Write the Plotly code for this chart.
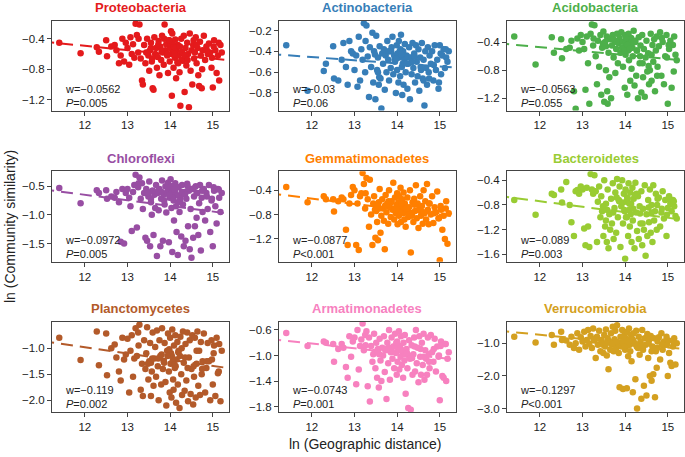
import plotly.graph_objects as go

# shared geographic distances (ln), one per site pair
geo_x = [
    11.40, 11.90, 12.28, 12.33, 12.50, 12.52, 12.62, 12.70, 12.74, 12.80,
    12.84, 12.88, 12.92, 12.96, 13.00, 13.04, 13.07, 13.10, 13.13, 13.16,
    13.19, 13.22, 13.25, 13.28, 13.31, 13.34, 13.36, 13.39, 13.42, 13.44,
    13.46, 13.49, 13.51, 13.53, 13.55, 13.57, 13.59, 13.61, 13.63, 13.65,
    13.67, 13.69, 13.71, 13.73, 13.75, 13.77, 13.79, 13.81, 13.83, 13.85,
    13.87, 13.89, 13.91, 13.93, 13.95, 13.97, 13.99, 14.00, 14.01, 14.03,
    14.04, 14.05, 14.07, 14.08, 14.09, 14.11, 14.12, 14.14, 14.15, 14.17,
    14.18, 14.20, 14.22, 14.24, 14.26, 14.28, 14.30, 14.32, 14.34, 14.36,
    14.38, 14.40, 14.42, 14.44, 14.46, 14.48, 14.50, 14.52, 14.54, 14.56,
    14.58, 14.60, 14.62, 14.64, 14.66, 14.68, 14.70, 14.72, 14.74, 14.76,
    14.79, 14.82, 14.85, 14.88, 14.91, 14.94, 14.97, 15.00, 15.03, 15.06,
    15.09, 15.12, 15.15, 15.18, 15.21, 13.58, 13.86, 14.02, 14.13, 14.27,
    13.48, 13.72, 13.94, 14.06, 14.19, 14.35, 14.55, 14.75, 14.98, 15.14,
    13.26, 13.55, 13.80, 13.98, 14.10, 14.23, 14.41, 14.62, 14.86, 15.02,
]

proteo_y = [
    -0.45, -0.59, -0.51, -0.57, -0.42, -0.63, -0.50, -0.48, -0.55, -0.72,
    -0.62, -0.40, -0.70, -0.45, -0.52, -0.74, -0.38, -0.60, -0.47, -0.65,
    -0.20, -0.35, -0.58, -0.21, -0.66, -0.95, -1.00, -0.48, -0.72, -0.58,
    -0.40, -0.62, -0.82, -0.55, -0.45, -0.70, -1.05, -1.07, -0.38, -0.60,
    -0.52, -0.78, -0.64, -0.43, -0.88, -0.50, -0.68, -0.36, -0.58, -0.74,
    -0.21, -0.55, -0.47, -0.62, -0.85, -0.42, -0.70, -0.52, -0.46, -0.60,
    -1.15, -0.33, -0.58, -0.78, -0.50, -0.65, -0.41, -0.92, -0.55, -0.71,
    -0.48, -0.62, -0.84, -1.28, -0.40, -0.57, -0.69, -0.36, -1.10, -0.52,
    -0.75, -0.45, -0.60, -1.30, -0.33, -0.82, -0.55, -1.00, -0.48, -0.66,
    -0.58, -0.38, -0.72, -0.52, -0.88, -1.02, -0.44, -0.62, -1.05, -0.55,
    -0.36, -0.68, -0.50, -0.60, -0.46, -0.58, -0.78, -1.04, -0.42, -0.55,
    -0.85, -0.62, -0.95, -0.48, -0.58, -0.66, -0.40, -0.30, -0.52, -0.68,
    -0.58, -0.48, -0.60, -0.44, -0.72, -0.62, -0.42, -0.80, -0.65, -0.45,
    -0.40, -0.52, -0.56, -0.42, -0.60, -0.50, -0.68, -0.48, -0.55, -0.50,
]
actino_y = [
    -0.34, -0.78, -0.59, -0.52, -0.35, -0.66, -0.68, -0.48, -0.32, -0.55,
    -0.72, -0.30, -0.40, -0.42, -0.58, -0.44, -0.74, -0.26, -0.68, -0.38,
    -0.48, -0.13, -0.60, -0.15, -0.45, -0.84, -0.36, -0.55, -0.22, -0.70,
    -0.40, -0.86, -0.25, -0.58, -0.46, -0.72, -0.35, -0.66, -0.95, -0.42,
    -0.52, -0.38, -0.77, -0.44, -0.60, -0.30, -0.48, -0.68, -0.40, -0.56,
    -0.36, -0.26, -0.62, -0.44, -0.50, -0.80, -0.34, -0.58, -0.42, -0.70,
    -0.30, -0.46, -0.64, -0.38, -0.24, -0.55, -0.82, -0.40, -0.72, -0.48,
    -0.33, -0.60, -0.44, -0.76, -0.52, -0.36, -0.86, -0.46, -0.62, -0.32,
    -0.56, -0.42, -0.70, -0.34, -0.50, -0.64, -0.38, -0.78, -0.46, -0.58,
    -0.32, -0.66, -0.48, -0.92, -0.40, -0.56, -0.72, -0.36, -0.60, -0.44,
    -0.52, -0.40, -0.68, -0.34, -0.58, -0.48, -0.76, -0.34, -0.62, -0.44,
    -0.38, -0.56, -0.46, -0.50, -0.40, -0.65, -0.40, -0.44, -0.52, -0.46,
    -0.43, -0.42, -0.48, -0.40, -0.45, -0.50, -0.55, -0.66, -0.70, -0.38,
    -0.30, -0.60, -0.40, -0.47, -0.43, -0.52, -0.45, -0.68, -0.53, -0.42,
]
acido_y = [
    -0.32, -0.72, -0.33, -0.55, -0.36, -0.63, -0.50, -0.48, -0.38, -1.10,
    -1.35, -0.35, -0.52, -0.30, -0.40, -0.50, -1.08, -0.32, -0.70, -1.28,
    -0.28, -0.15, -0.45, -0.16, -0.60, -1.00, -0.38, -0.75, -0.30, -1.15,
    -0.48, -0.25, -1.25, -0.40, -0.80, -0.32, -1.28, -0.55, -0.90, -0.36,
    -1.20, -0.45, -0.30, -0.62, -0.38, -0.84, -0.50, -0.28, -0.70, -0.42,
    -0.34, -0.55, -0.26, -0.48, -0.75, -0.40, -1.05, -0.30, -0.58, -0.45,
    -0.36, -1.15, -0.52, -0.28, -0.66, -0.42, -0.95, -0.34, -0.78, -0.48,
    -0.60, -0.24, -1.02, -0.40, -0.88, -0.52, -1.20, -0.33, -0.70, -0.45,
    -1.12, -0.30, -0.90, -0.50, -1.18, -0.62, -0.38, -0.82, -0.56, -1.00,
    -0.80, -0.28, -0.95, -0.44, -0.68, -0.36, -1.10, -0.52, -0.32, -0.75,
    -0.46, -0.26, -0.88, -0.40, -1.00, -0.60, -0.30, -1.28, -0.50, -0.38,
    -1.05, -0.44, -0.32, -0.58, -0.66, -1.10, -0.38, -0.34, -0.46, -0.52,
    -0.42, -0.36, -0.50, -0.44, -0.40, -0.60, -0.74, -0.88, -0.62, -0.82,
    -0.35, -0.46, -0.40, -0.52, -0.50, -0.38, -0.70, -0.58, -0.34, -0.44,
]
chloro_y = [
    -0.53, -0.80, -0.57, -0.62, -0.57, -0.72, -0.68, -0.70, -0.60, -0.78,
    -1.47, -0.55, -1.50, -0.62, -0.55, -0.70, -0.85, -1.28, -0.60, -0.48,
    -0.30, -1.22, -0.52, -0.35, -0.72, -0.45, -0.90, -0.62, -1.40, -0.55,
    -1.45, -0.68, -0.42, -1.55, -0.78, -1.00, -0.58, -1.35, -0.65, -0.88,
    -0.48, -1.72, -0.62, -0.92, -0.55, -1.55, -0.72, -0.40, -1.45, -0.65,
    -0.82, -0.50, -0.96, -0.60, -0.44, -1.48, -0.70, -0.55, -0.38, -0.88,
    -0.62, -1.65, -0.50, -0.75, -1.10, -0.58, -0.45, -0.85, -1.30, -0.66,
    -1.70, -0.52, -0.95, -0.70, -1.38, -0.48, -0.82, -1.55, -0.60, -1.45,
    -0.72, -0.46, -1.20, -0.58, -1.60, -0.90, -1.75, -0.55, -1.40, -0.68,
    -1.20, -0.50, -1.05, -0.62, -1.35, -0.80, -0.48, -1.62, -0.70, -0.95,
    -0.55, -1.10, -0.62, -0.90, -0.48, -1.30, -0.75, -1.55, -0.58, -0.85,
    -1.15, -0.55, -0.70, -0.95, -0.62, -0.58, -0.75, -0.50, -0.66, -0.60,
    -0.62, -0.58, -0.52, -0.70, -0.78, -0.64, -0.54, -0.58, -0.72, -0.56,
    -0.45, -0.72, -0.60, -0.66, -0.56, -0.75, -0.50, -0.62, -0.68, -0.52,
]
gemma_y = [
    -0.35, -0.60, -0.50, -0.55, -0.55, -0.75, -0.58, -0.52, -0.55, -1.05,
    -1.30, -0.62, -0.48, -0.35, -0.40, -1.30, -0.62, -1.38, -0.50, -0.45,
    -0.12, -0.30, -0.70, -0.20, -0.55, -1.00, -0.23, -0.80, -1.30, -0.62,
    -0.50, -1.18, -0.74, -0.92, -1.22, -0.60, -0.38, -1.10, -0.82, -0.55,
    -0.70, -0.90, -1.37, -0.48, -0.76, -0.62, -0.95, -0.40, -0.68, -0.84,
    -0.58, -0.72, -0.28, -0.88, -0.52, -0.78, -0.64, -0.45, -0.96, -0.60,
    -0.82, -0.50, -0.70, -0.36, -0.92, -0.66, -0.55, -0.78, -0.44, -0.88,
    -0.62, -1.00, -0.74, -0.52, -0.84, -0.68, -0.40, -1.42, -0.78, -0.60,
    -0.92, -0.54, -0.74, -0.32, -0.86, -0.62, -1.02, -0.70, -0.50, -0.82,
    -0.66, -0.95, -0.40, -0.78, -0.58, -0.88, -0.30, -0.72, -0.96, -0.62,
    -0.80, -0.50, -0.94, -0.68, -0.76, -0.42, -0.86, -1.55, -0.72, -1.05,
    -0.82, -1.20, -0.58, -1.28, -0.78, -0.70, -0.60, -0.74, -0.66, -0.80,
    -0.72, -0.65, -0.70, -0.76, -0.68, -0.82, -0.74, -0.62, -0.86, -0.70,
    -0.45, -0.66, -0.58, -0.72, -0.62, -0.70, -0.64, -0.76, -0.78, -0.66,
]
bactero_y = [
    -0.72, -0.96, -0.62, -0.64, -0.55, -0.76, -0.43, -0.80, -1.08, -1.30,
    -0.58, -0.56, -0.62, -0.50, -0.55, -1.18, -1.45, -0.52, -1.15, -1.48,
    -0.30, -0.55, -0.62, -0.32, -0.58, -1.40, -0.75, -0.50, -1.00, -0.66,
    -0.90, -1.30, -0.40, -1.15, -0.78, -1.40, -0.55, -1.50, -0.95, -1.20,
    -0.70, -1.10, -0.45, -1.35, -0.85, -0.60, -1.25, -0.38, -1.00, -0.72,
    -0.50, -1.48, -0.82, -0.40, -1.10, -0.62, -0.90, -1.67, -0.55, -0.75,
    -1.00, -0.68, -1.30, -0.45, -0.88, -1.15, -0.60, -0.78, -1.40, -0.52,
    -1.05, -0.70, -1.50, -0.44, -0.92, -1.22, -0.66, -1.35, -0.82, -1.10,
    -0.58, -1.45, -0.86, -1.20, -0.48, -1.62, -0.95, -1.30, -0.72, -1.08,
    -0.55, -1.25, -0.80, -1.40, -0.48, -1.05, -0.90, -0.62, -1.20, -0.70,
    -0.68, -1.15, -0.92, -0.58, -1.02, -0.72, -1.30, -0.85, -0.66, -0.78,
    -0.90, -0.72, -0.82, -0.98, -1.02, -0.88, -0.74, -1.00, -0.95, -0.62,
    -0.82, -0.92, -0.76, -0.70, -0.86, -0.94, -0.84, -0.80, -0.96, -0.74,
    -0.58, -1.05, -0.68, -0.88, -0.78, -0.64, -1.10, -0.92, -0.86, -0.70,
]
plancto_y = [
    -0.80, -1.23, -0.68, -1.33, -0.72, -1.52, -1.00, -0.93, -1.18, -1.45,
    -1.62, -0.80, -1.22, -1.12, -0.82, -1.85, -1.05, -0.75, -1.55, -1.20,
    -0.62, -1.15, -0.70, -0.55, -1.80, -1.30, -1.92, -0.85, -1.40, -1.10,
    -0.60, -1.60, -1.25, -0.90, -1.92, -1.45, -0.70, -1.72, -1.20, -0.98,
    -1.55, -0.66, -1.35, -2.00, -0.85, -1.15, -1.70, -0.62, -1.40, -1.25,
    -0.90, -1.65, -2.10, -1.05, -0.72, -1.45, -1.85, -0.80, -1.30, -1.95,
    -1.15, -0.64, -1.60, -1.80, -0.95, -1.38, -0.75, -2.05, -1.22, -0.88,
    -1.70, -1.05, -2.15, -0.78, -1.50, -1.90, -0.68, -1.28, -1.82, -0.92,
    -1.62, -0.70, -2.02, -1.18, -0.85, -1.88, -1.40, -0.75, -2.08, -1.55,
    -0.80, -1.95, -1.30, -0.68, -1.72, -1.05, -1.90, -0.88, -1.50, -1.25,
    -0.72, -1.85, -1.38, -0.90, -1.25, -2.00, -0.85, -1.70, -0.95, -1.92,
    -0.80, -1.48, -0.92, -2.02, -1.05, -1.20, -1.28, -1.10, -1.35, -1.00,
    -1.30, -1.20, -1.15, -1.25, -1.08, -1.18, -1.35, -1.40, -1.22, -1.45,
    -0.95, -1.28, -1.12, -1.02, -1.32, -1.15, -1.38, -1.05, -1.25, -1.10,
]
armati_y = [
    -0.65, -0.85, -0.78, -0.80, -0.82, -1.10, -0.90, -0.82, -0.88, -1.18,
    -1.35, -0.70, -1.02, -0.78, -0.72, -1.45, -0.60, -1.22, -0.85, -0.75,
    -0.50, -0.92, -0.68, -0.62, -1.48, -0.72, -1.72, -0.85, -1.10, -0.98,
    -0.66, -1.20, -0.80, -1.35, -0.90, -1.50, -0.74, -1.08, -1.40, -0.88,
    -1.00, -0.70, -1.26, -0.92, -1.68, -0.80, -1.12, -0.60, -1.38, -0.95,
    -0.72, -1.05, -0.86, -1.20, -0.66, -0.96, -1.30, -0.78, -1.10, -0.90,
    -0.62, -1.22, -0.85, -1.02, -0.70, -1.15, -0.92, -1.35, -0.80, -1.08,
    -0.68, -1.60, -0.90, -1.20, -1.82, -0.76, -1.05, -1.85, -0.84, -1.30,
    -0.98, -0.72, -1.25, -0.60, -1.12, -0.88, -1.42, -0.70, -1.02, -1.30,
    -0.80, -1.15, -0.66, -1.38, -0.92, -1.05, -1.30, -0.72, -0.98, -1.20,
    -0.68, -0.95, -1.10, -0.74, -1.25, -0.86, -1.02, -1.70, -0.78, -1.32,
    -1.35, -0.82, -1.40, -1.05, -0.95, -0.98, -0.92, -0.88, -0.96, -1.00,
    -0.94, -0.90, -0.86, -0.92, -0.98, -1.04, -0.90, -1.10, -1.00, -0.82,
    -0.84, -0.95, -0.88, -0.80, -0.92, -0.96, -0.86, -1.02, -0.90, -0.85,
]
verruco_y = [
    -0.80, -0.98, -0.75, -1.05, -0.65, -0.90, -0.92, -1.05, -0.80, -1.15,
    -1.00, -0.70, -1.20, -0.82, -0.95, -0.65, -1.10, -0.90, -0.60, -1.02,
    -0.78, -1.15, -0.55, -0.92, -1.45, -0.80, -1.05, -0.62, -1.25, -0.90,
    -1.00, -1.30, -0.75, -1.10, -0.58, -1.38, -0.85, -1.80, -0.95, -1.20,
    -0.70, -1.05, -0.50, -1.25, -0.88, -0.62, -1.15, -0.45, -0.98, -1.30,
    -2.35, -0.80, -1.10, -0.60, -2.40, -0.95, -0.72, -1.20, -0.85, -1.00,
    -2.38, -0.65, -1.40, -0.90, -0.55, -1.05, -1.25, -0.75, -1.55, -0.88,
    -2.50, -0.70, -1.00, -2.10, -0.62, -3.00, -1.15, -0.80, -1.35, -0.95,
    -2.70, -0.60, -1.20, -2.30, -0.85, -1.05, -2.60, -0.72, -1.45, -0.90,
    -2.00, -0.78, -2.15, -1.10, -1.95, -0.85, -2.65, -1.25, -1.75, -0.95,
    -0.82, -1.50, -0.70, -1.20, -0.95, -1.05, -0.80, -2.00, -1.30, -1.60,
    -1.70, -1.10, -0.85, -1.65, -1.00, -0.95, -1.05, -1.00, -0.90, -1.10,
    -1.05, -1.00, -0.98, -1.08, -0.92, -1.12, -1.00, -1.15, -1.05, -0.98,
    -0.88, -1.02, -0.96, -1.10, -0.94, -1.02, -1.08, -1.25, -1.05, -0.92,
]

phyla = ["Proteobacteria", "Actinobacteria", "Acidobacteria",
         "Chloroflexi", "Gemmatimonadetes", "Bacteroidetes",
         "Planctomycetes", "Armatimonadetes", "Verrucomicrobia"]
series_y = [proteo_y, actino_y, acido_y, chloro_y, gemma_y, bactero_y,
            plancto_y, armati_y, verruco_y]
colors = ["#e41a1c", "#377eb8", "#4daf4a", "#984ea3", "#ff7f00",
          "#99cc33", "#b35a2a", "#f781bf", "#d4a020"]
slopes = [-0.0562, -0.03, -0.0563, -0.0972, -0.0877, -0.089, -0.119, -0.0743, -0.1297]
intercepts = [0.182, -0.095, 0.204, 0.516, 0.515, 0.328, 0.445, 0.078, 0.814]
w_labels = ["w=−0.0562", "w=−0.03", "w=−0.0563", "w=−0.0972", "w=−0.0877",
            "w=−0.089", "w=−0.119", "w=−0.0743", "w=−0.1297"]
p_labels = ["=0.005", "=0.06", "=0.055", "=0.005", "<0.001",
            "=0.003", "=0.002", "=0.001", "<0.001"]
y_ranges = [[-1.344, -0.164], [-0.969, -0.107], [-1.375, -0.098],
            [-1.82, -0.24], [-1.575, -0.09], [-1.72, -0.255],
            [-2.23, -0.49], [-1.887, -0.47], [-3.11, -0.34]]
y_ticks = [[-1.2, -0.8, -0.4], [-0.8, -0.6, -0.4, -0.2], [-1.2, -0.8, -0.4],
           [-1.5, -1.0, -0.5], [-1.2, -0.8, -0.4], [-1.6, -1.2, -0.8, -0.4],
           [-2.0, -1.5, -1.0], [-1.8, -1.4, -1.0, -0.6], [-3.0, -2.0, -1.0]]
x_range = [11.23, 15.38]
x_ticks = [12, 13, 14, 15]

W, H = 685, 457
col_px = [(52, 229), (279, 456), (507, 684)]
row_px = [(21, 111), (172, 263), (323, 414)]
FONT = "Liberation Sans, Arial, sans-serif"

fig = go.Figure()
layout = dict(width=W, height=H, margin=dict(l=0, r=0, t=0, b=0),
              paper_bgcolor="white", plot_bgcolor="white", showlegend=False,
              font=dict(family=FONT, color="#222222"))
annotations = []

for i, name in enumerate(phyla):
    r, c = divmod(i, 3)
    ax = "" if i == 0 else str(i + 1)
    x0, x1 = col_px[c]
    top, bot = row_px[r]
    axis_style = dict(showline=True, mirror=True, linecolor="#444444", linewidth=1,
                      ticks="outside", ticklen=4, tickcolor="#444444",
                      showgrid=False, zeroline=False,
                      tickfont=dict(size=11.5, family=FONT, color="#222222"))
    layout["xaxis" + ax] = dict(domain=[x0 / W, x1 / W], range=x_range,
                                tickvals=x_ticks, anchor="y" + ax, **axis_style)
    layout["yaxis" + ax] = dict(domain=[1 - bot / H, 1 - top / H], range=y_ranges[i],
                                tickvals=y_ticks[i],
                                ticktext=[f"{v:.1f}".replace("-", "−") for v in y_ticks[i]],
                                anchor="x" + ax, **axis_style)

    fx = [11.0, 15.6]
    fig.add_trace(go.Scatter(x=fx, y=[intercepts[i] + slopes[i] * v for v in fx],
                             mode="lines", xaxis="x" + ax, yaxis="y" + ax,
                             line=dict(color=colors[i], width=2, dash="12px,7px")))
    fig.add_trace(go.Scatter(x=geo_x, y=series_y[i], mode="markers",
                             xaxis="x" + ax, yaxis="y" + ax,
                             marker=dict(color=colors[i], size=6.5, line=dict(width=0))))

    annotations.append(dict(text="<b>" + name + "</b>", xref="paper", yref="paper",
                            x=(x0 + x1) / 2 / W, y=1 - (top - 13) / H,
                            xanchor="center", yanchor="middle", showarrow=False,
                            font=dict(size=13, color=colors[i], family=FONT)))
    annotations.append(dict(text=w_labels[i] + "<br><i>P</i>" + p_labels[i],
                            xref="x" + ax + " domain", yref="y" + ax + " domain",
                            x=0.06, y=0.0, xanchor="left", yanchor="bottom",
                            align="left", showarrow=False,
                            font=dict(size=11, color="#222222", family=FONT)))

annotations.append(dict(text="ln (Community similarity)", xref="paper", yref="paper",
                        x=10 / W, y=1 - 228 / H, textangle=-90, showarrow=False,
                        xanchor="center", yanchor="middle",
                        font=dict(size=14, color="#222222", family=FONT)))
annotations.append(dict(text="ln (Geographic distance)", xref="paper", yref="paper",
                        x=366 / W, y=1 - 446 / H, showarrow=False,
                        xanchor="center", yanchor="middle",
                        font=dict(size=14, color="#222222", family=FONT)))
layout["annotations"] = annotations
fig.update_layout(**layout)
fig.write_html("out.html", config={"displayModeBar": False},
               post_script="document.body.style.margin='0';document.body.style.overflow='hidden';")
